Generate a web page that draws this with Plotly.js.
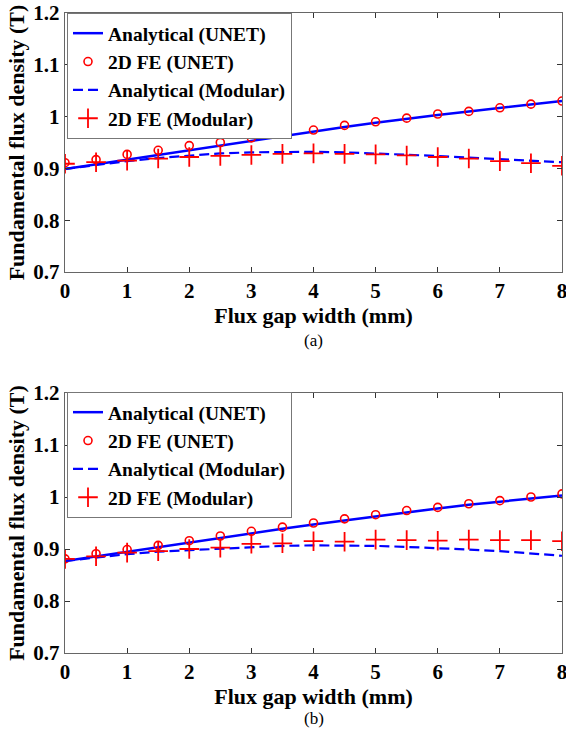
<!DOCTYPE html>
<html>
<head>
<meta charset="utf-8">
<script src="https://cdn.plot.ly/plotly-3.0.1.min.js"></script>
<style>html,body{margin:0;padding:0;background:#fff;}#chart{width:566px;height:733px;}</style>
</head>
<body>
<div id="chart"></div>
<script>
// Shared x values (flux gap width, mm)
const gapFE = [0,0.5,1,1.5,2,2.5,3,3.5,4,4.5,5,5.5,6,6.5,7,7.5,8];
const gapLine = [0,0.5,1,1.5,2,2.5,3,3.5,4,4.5,5,5.5,6,6.5,7,7.5,8];

// Panel (a)
const a_anaUNET = [0.899,0.908,0.917,0.927,0.936,0.945,0.954,0.963,0.971,0.980,0.988,0.996,1.003,1.010,1.017,1.024,1.030];
const a_feUNET  = [0.911,0.917,0.927,0.935,0.944,0.950,0.959,0.967,0.974,0.983,0.990,0.997,1.005,1.010,1.017,1.024,1.030];
const a_anaMod  = [0.899,0.907,0.914,0.920,0.925,0.929,0.931,0.932,0.932,0.931,0.929,0.927,0.924,0.921,0.918,0.915,0.912];
const a_feMod   = [0.909,0.912,0.915,0.919,0.922,0.924,0.926,0.928,0.929,0.928,0.927,0.925,0.922,0.919,0.914,0.910,0.905];

// Panel (b)
const b_anaUNET = [0.877,0.886,0.894,0.903,0.912,0.921,0.930,0.939,0.947,0.955,0.963,0.971,0.978,0.985,0.991,0.997,1.003];
const b_feUNET  = [0.881,0.891,0.899,0.907,0.916,0.925,0.934,0.942,0.950,0.958,0.966,0.974,0.980,0.987,0.993,1.000,1.006];
const b_anaMod  = [0.877,0.884,0.890,0.895,0.898,0.901,0.904,0.906,0.907,0.907,0.906,0.904,0.902,0.899,0.896,0.892,0.887];
const b_feMod   = [0.881,0.886,0.893,0.896,0.900,0.9025,0.910,0.911,0.915,0.914,0.918,0.917,0.916,0.918,0.917,0.917,0.915];

const names = ['Analytical (UNET)','2D FE (UNET)','Analytical (Modular)','2D FE (Modular)'];
const xTicks = [0,1,2,3,4,5,6,7,8];
const yTicks = [0.7,0.8,0.9,1,1.1,1.2];
const yTickText = ['0.7','0.8','0.9','1','1.1','1.2'];
const xTitle = 'Flux gap width (mm)';
const yTitle = 'Fundamental flux density (T)';
const captions = ['(a)','(b)'];

const FONT = '"Times New Roman", "Liberation Serif", "DejaVu Serif", serif';
const blue = '#0000ff', red = '#ff0000';

function panelTraces(ana, fe, anaM, feM, xa, ya, leg){
  return [
    {x: gapLine, y: ana, xaxis: xa, yaxis: ya, legend: leg, name: names[0], mode:'lines', line:{color:blue, width:2.5}},
    {x: gapFE, y: fe, xaxis: xa, yaxis: ya, legend: leg, name: names[1], mode:'markers', marker:{symbol:'circle-open', color:red, size:8, line:{width:1.6, color:red}}},
    {x: gapLine, y: anaM, xaxis: xa, yaxis: ya, legend: leg, name: names[2], mode:'lines', line:{color:blue, width:2.2, dash:'10px,5px'}},
    {x: gapFE, y: feM, xaxis: xa, yaxis: ya, legend: leg, name: names[3], mode:'markers', marker:{symbol:'cross-thin-open', color:red, size:14, line:{width:1.8, color:red}}}
  ];
}

const data = panelTraces(a_anaUNET, a_feUNET, a_anaMod, a_feMod, 'x', 'y', 'legend')
  .concat(panelTraces(b_anaUNET, b_feUNET, b_anaMod, b_feMod, 'x2', 'y2', 'legend2'));

const W = 566, H = 733;
const xDom = [65/W, 562/W];
const yDomA = [(H-272)/H, (H-13)/H];
const yDomB = [(H-653)/H, (H-393)/H];

function xAxis(anchor){
  return {domain: xDom, anchor: anchor, range:[0,8], tickvals: xTicks, ticktext: xTicks.map(String),
    ticks:'inside', ticklen:5, tickcolor:'#333', mirror:'ticks', showline:true, linecolor:'#666', linewidth:1.2,
    showgrid:false, zeroline:false, ticklabeloverflow:'allow', ticklabelstandoff:0,
    tickfont:{family:FONT, size:21, weight:'bold', color:'#000'},
    title:{text:xTitle, font:{family:FONT, size:22, weight:'bold', color:'#000'}, standoff:0}};
}
function yAxis(anchor, dom){
  return {domain: dom, anchor: anchor, range:[0.7,1.2], tickvals: yTicks, ticktext: yTickText,
    ticks:'inside', ticklen:5, tickcolor:'#333', mirror:'ticks', showline:true, linecolor:'#666', linewidth:1.2,
    showgrid:false, zeroline:false, ticklabeloverflow:'allow',
    tickfont:{family:FONT, size:21, weight:'bold', color:'#000'},
    title:{text:yTitle, font:{family:FONT, size:22, weight:'bold', color:'#000'}, standoff:2}};
}
function legendAt(yTop){
  return {x: 67/W, y: (H-yTop)/H, xanchor:'left', yanchor:'top', bgcolor:'#fff', bordercolor:'#777', borderwidth:1,
    font:{family:FONT, size:19.5, weight:'bold', color:'#000'}, tracegroupgap:0, itemwidth:30};
}

const layout = {
  width: W, height: H, margin:{l:0, r:0, t:0, b:0}, paper_bgcolor:'#fff', plot_bgcolor:'#fff',
  showlegend:true,
  xaxis: xAxis('y'), yaxis: yAxis('x', yDomA),
  xaxis2: xAxis('y2'), yaxis2: yAxis('x2', yDomB),
  legend: legendAt(13), legend2: legendAt(392),
  annotations: [
    {text:captions[0], xref:'paper', yref:'paper', x:(65+562)/2/W, y:(H-341)/H, yanchor:'middle', showarrow:false, font:{family:FONT, size:17, color:'#000'}},
    {text:captions[1], xref:'paper', yref:'paper', x:(65+562)/2/W, y:(H-718)/H, yanchor:'middle', showarrow:false, font:{family:FONT, size:17, color:'#000'}}
  ]
};

Plotly.newPlot('chart', data, layout, {displayModeBar:false, staticPlot:true});
</script>
</body>
</html>
